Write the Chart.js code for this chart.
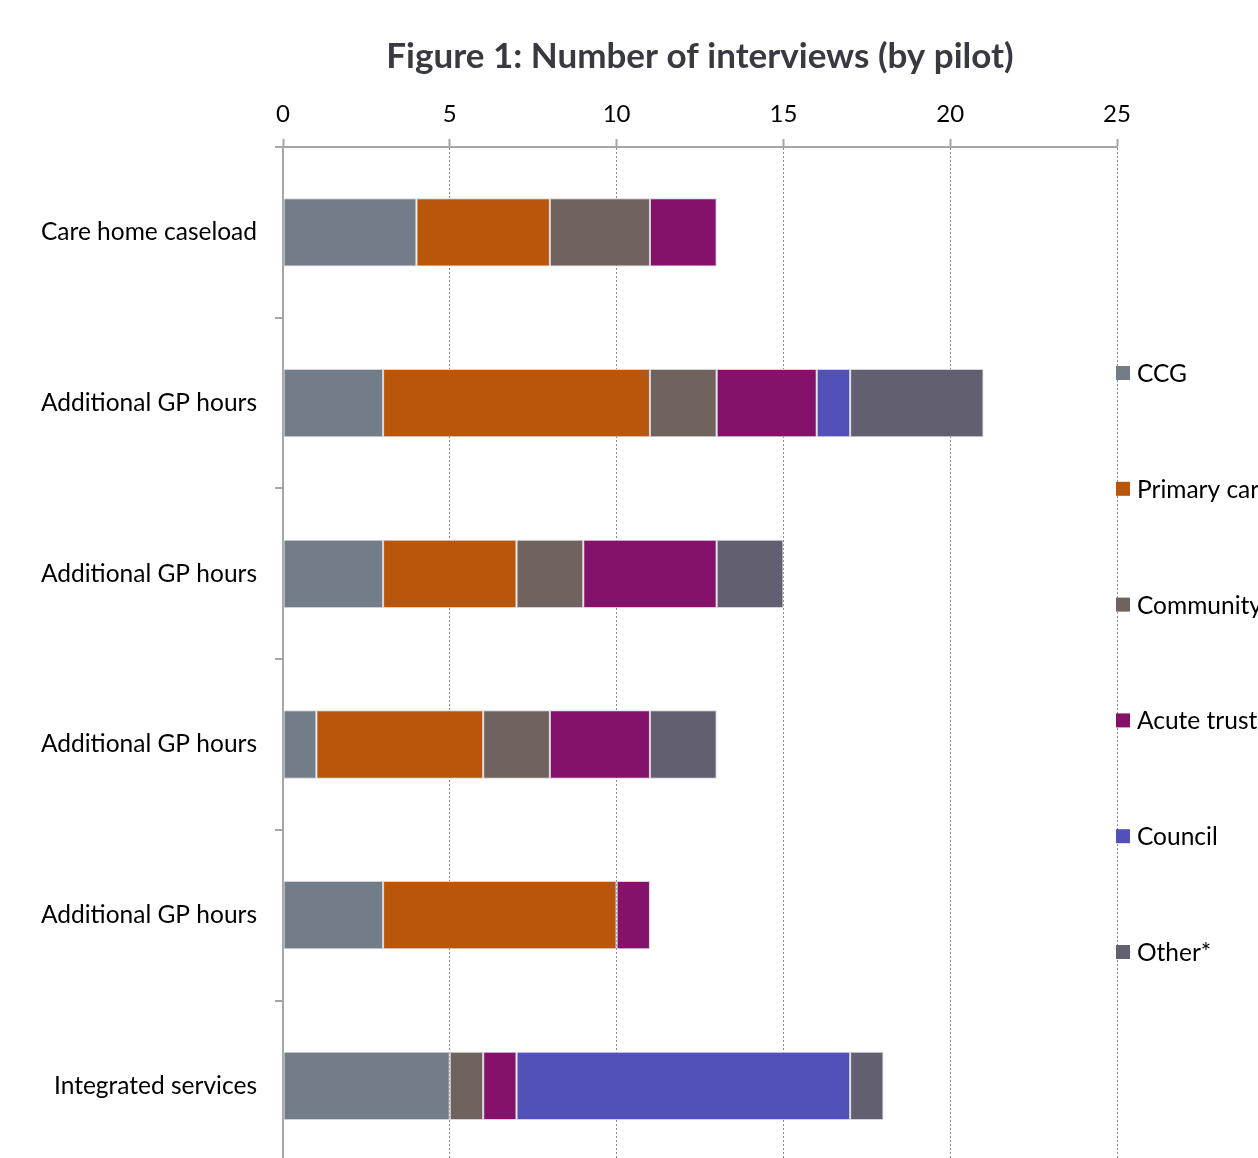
<!DOCTYPE html>
<html>
<head>
<meta charset="utf-8">
<title>Figure 1: Number of interviews (by pilot)</title>
<script src="https://cdn.jsdelivr.net/npm/chart.js@4.4.1/dist/chart.umd.min.js"></script>
<style>
    html, body {
        margin: 0;
        padding: 0;
        background: #ffffff;
        overflow: hidden;
    }
    #wrap {
        width: 1258px;
        height: 1158px;
        overflow: hidden;
    }
    #pilotChart {
        display: block;
    }
</style>
</head>
<body>
<div id="wrap">
    <canvas id="pilotChart" width="1258" height="1204"></canvas>
</div>
<script>
// Datos del gráfico
const pilots = [
    'Care home caseload',
    'Additional GP hours',
    'Additional GP hours',
    'Additional GP hours',
    'Additional GP hours',
    'Integrated services'
];
const seriesNames = ['CCG', 'Primary care', 'Community trust', 'Acute trust', 'Council', 'Other*'];
const ccg       = [4, 3, 3, 1, 3, 5];
const primary   = [4, 8, 4, 5, 7, 0];
const community = [3, 2, 2, 2, 0, 1];
const acute     = [2, 3, 4, 3, 1, 1];
const council   = [0, 1, 0, 0, 0, 10];
const other     = [0, 4, 2, 2, 0, 1];
const xTicks    = [0, 5, 10, 15, 20, 25];

const seriesValues = [ccg, primary, community, acute, council, other];
const seriesColors = ['#727d89', '#ba550c', '#70625d', '#84116a', '#5151b9', '#626070'];

const FONT = 'Lato, "Open Sans", sans-serif';
const TITLE_SIZE = 35;
const TITLE_PAD_TOP = 36;
const TITLE_PAD_BOTTOM = 6;

document.addEventListener('DOMContentLoaded', function() {
    initPilotChart();
});

// Leyenda a la derecha, dibujada a mano (recortada por el borde como en el original)
const sideLegend = {
    id: 'sideLegend',
    afterDraw(chart) {
        const ctx = chart.ctx;
        const x = chart.chartArea.right - 1;
        ctx.save();
        ctx.font = '24.5px ' + FONT;
        ctx.textBaseline = 'middle';
        ctx.textAlign = 'left';
        chart.data.datasets.forEach((ds, i) => {
            const y = 373 + i * 115.8;
            ctx.fillStyle = ds.backgroundColor;
            ctx.fillRect(x, y - 7, 14, 14);
            ctx.fillStyle = '#000000';
            ctx.fillText(ds.label, x + 21, y + 1);
        });
        ctx.restore();
    }
};

function initPilotChart() {
    const canvas = document.getElementById('pilotChart');
    if (!canvas) return;

    const ctx = canvas.getContext('2d');

    const datasets = seriesNames.map((name, i) => ({
        label: name,
        data: seriesValues[i],
        backgroundColor: seriesColors[i],
        borderColor: 'rgba(205, 206, 214, 0.9)',
        borderWidth: 1,
        borderSkipped: false,
        categoryPercentage: 1,
        barPercentage: 0.4
    }));

    new Chart(ctx, {
        type: 'bar',
        data: {
            labels: pilots,
            datasets: datasets
        },
        plugins: [sideLegend],
        options: {
            responsive: false,
            animation: false,
            indexAxis: 'y',
            layout: {
                padding: { left: 0, right: 141, top: 0, bottom: 13 }
            },
            plugins: {
                legend: { display: false },
                tooltip: { enabled: false },
                title: {
                    display: true,
                    fullSize: false,
                    text: 'Figure 1: Number of interviews (by pilot)',
                    color: '#393941',
                    font: { family: FONT, size: TITLE_SIZE, weight: 'bold', lineHeight: 1.2 },
                    padding: { top: TITLE_PAD_TOP, bottom: TITLE_PAD_BOTTOM }
                }
            },
            scales: {
                x: {
                    position: 'top',
                    stacked: true,
                    min: 0,
                    max: 25,
                    afterBuildTicks: function(scale) {
                        scale.ticks = xTicks.map(v => ({ value: v }));
                    },
                    afterFit: function(scale) {
                        scale.height = 147 - (TITLE_PAD_TOP + TITLE_SIZE * 1.2 + TITLE_PAD_BOTTOM);
                    },
                    border: { display: true, color: '#a6a6a6', width: 2, dash: [2, 2] },
                    grid: {
                        display: true,
                        color: '#8c8c8c',
                        lineWidth: 1,
                        drawTicks: true,
                        tickLength: 8,
                        tickColor: '#a6a6a6',
                        tickWidth: 2,
                        tickBorderDash: []
                    },
                    ticks: {
                        color: '#000000',
                        padding: 10,
                        font: { family: FONT, size: 24 }
                    }
                },
                y: {
                    stacked: true,
                    afterFit: function(scale) {
                        scale.width = 283;
                    },
                    border: { display: true, color: '#a6a6a6', width: 2 },
                    grid: {
                        offset: true,
                        drawOnChartArea: false,
                        drawTicks: true,
                        tickLength: 8,
                        color: '#a6a6a6',
                        lineWidth: 2
                    },
                    ticks: {
                        color: '#000000',
                        padding: 18,
                        font: { family: FONT, size: 24.5 }
                    }
                }
            }
        }
    });
}
</script>
</body>
</html>
